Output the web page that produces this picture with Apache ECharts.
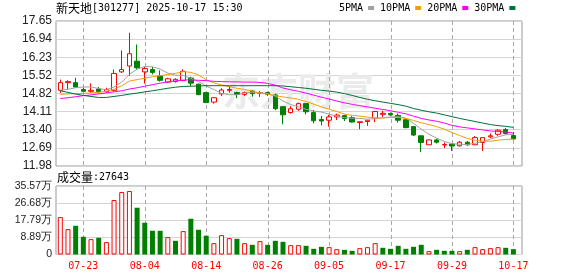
<!DOCTYPE html>
<html><head><meta charset="utf-8">
<script src="https://cdn.jsdelivr.net/npm/echarts@6/dist/echarts.min.js"></script>
<style>html,body{margin:0;padding:0;background:#fff}#c{width:578px;height:276px}</style>
</head><body><div id="c"></div>
<script>
const dates = ['07-18','07-21','07-22','07-23','07-24','07-25','07-28','07-29','07-30','07-31',
'08-01','08-04','08-05','08-06','08-07','08-08','08-11','08-12','08-13','08-14','08-15','08-18','08-19','08-20','08-21','08-22','08-25','08-26','08-27','08-28','08-29',
'09-01','09-02','09-03','09-04','09-05','09-08','09-09','09-10','09-11','09-12','09-15','09-16','09-17','09-18','09-19','09-22','09-23','09-24','09-25','09-26','09-29','09-30',
'10-09','10-10','10-13','10-14','10-15','10-16','10-17'];
const opens  = [14.94,15.24,15.24,14.97,14.90,14.99,14.89,14.94,15.66,15.89,16.08,15.66,15.75,15.50,15.26,15.28,15.32,15.42,15.18,14.85,14.48,14.80,14.94,14.85,14.78,14.91,14.83,14.85,14.76,14.30,14.07,14.20,14.42,14.07,13.80,13.77,13.90,13.95,13.87,13.68,13.72,13.85,14.00,14.03,13.96,13.79,13.52,13.16,12.81,13.00,12.80,12.84,12.77,12.91,12.81,12.90,13.12,13.22,13.41,13.17];
const closes = [15.24,15.28,15.07,14.90,14.94,14.89,14.97,15.60,15.75,16.37,15.82,15.79,15.64,15.33,15.39,15.37,15.68,15.22,14.77,14.46,14.65,14.95,14.97,14.78,14.85,14.81,14.85,14.78,14.22,13.98,14.22,14.42,14.10,13.75,13.74,13.90,13.97,13.83,13.70,13.71,13.77,14.11,14.04,13.98,13.77,13.48,13.19,12.90,13.00,12.91,12.82,12.76,12.91,12.81,13.09,13.09,13.16,13.38,13.25,13.04];
const lows   = [14.84,14.98,15.04,14.89,14.84,14.84,14.84,14.89,15.62,15.50,15.76,15.20,15.56,15.28,15.24,15.24,15.30,15.10,14.75,14.45,14.42,14.72,14.85,14.63,14.72,14.69,14.68,14.72,14.16,13.61,14.03,14.14,14.00,13.65,13.57,13.52,13.78,13.74,13.68,13.42,13.55,13.70,13.90,13.94,13.68,13.46,13.15,12.53,12.80,12.86,12.68,12.57,12.74,12.77,12.80,12.57,13.07,13.16,13.22,13.02];
const highs  = [15.36,15.33,15.43,15.04,15.21,15.07,15.04,15.75,16.50,17.19,16.73,15.85,15.85,15.72,15.43,15.41,15.76,15.47,15.20,14.86,14.66,15.02,15.10,14.89,14.89,14.94,14.91,14.89,14.81,14.31,14.32,14.46,14.44,14.17,13.94,13.98,14.03,13.98,13.93,13.71,13.78,14.14,14.14,14.07,14.03,13.81,13.54,13.18,13.01,13.05,12.90,12.84,12.96,12.96,13.15,13.10,13.25,13.42,13.46,13.31];
// volume in 万
const volumes = [19.43,13.19,14.92,9.20,7.98,8.68,6.42,28.28,32.44,32.97,24.29,16.48,12.32,12.32,9.02,7.11,12.15,18.56,12.84,9.72,5.90,10.06,8.50,8.15,5.90,5.03,6.94,5.03,7.11,6.59,4.86,4.86,4.51,2.95,3.99,3.82,2.78,2.43,1.91,3.30,3.82,5.90,3.47,2.95,4.51,2.95,3.99,5.03,1.74,2.43,1.91,1.91,1.74,2.43,3.82,2.78,3.30,3.82,3.47,2.7643];
const volUp = [1,1,0,0,1,0,1,1,1,1,0,0,0,0,1,0,1,0,0,0,1,1,1,0,1,0,1,0,0,0,1,1,0,0,0,1,1,0,0,1,1,1,0,0,0,0,0,0,1,0,0,0,1,0,1,1,1,1,0,0];
const ma5  = [14.94,14.98,15.04,15.07,15.07,15.01,14.96,15.07,15.26,15.57,15.76,15.87,15.86,15.77,15.61,15.53,15.52,15.41,15.28,15.11,14.97,14.82,14.77,14.76,14.84,14.86,14.85,14.81,14.71,14.52,14.38,14.30,14.20,14.13,14.09,14.01,13.93,13.87,13.85,13.84,13.81,13.83,13.86,13.90,13.91,13.85,13.65,13.42,13.22,13.07,12.94,12.85,12.83,12.82,12.87,12.93,13.03,13.12,13.20,13.22];
const ma10 = [14.78,14.80,14.81,14.82,14.84,14.86,14.90,14.98,15.12,15.30,15.36,15.41,15.47,15.51,15.56,15.60,15.67,15.64,15.54,15.35,15.23,15.15,15.08,15.02,14.97,14.91,14.83,14.79,14.73,14.68,14.64,14.59,14.50,14.40,14.29,14.20,14.11,14.01,13.96,13.93,13.89,13.86,13.86,13.88,13.88,13.84,13.76,13.67,13.60,13.52,13.42,13.29,13.17,13.06,12.99,12.95,12.95,12.99,13.02,13.03];
const ma20 = [14.62,14.65,14.69,14.73,14.76,14.80,14.84,14.88,14.92,14.99,15.04,15.10,15.16,15.22,15.27,15.31,15.34,15.35,15.33,15.32,15.29,15.28,15.27,15.27,15.26,15.26,15.25,15.21,15.14,15.03,14.96,14.90,14.83,14.75,14.67,14.60,14.52,14.45,14.39,14.34,14.29,14.24,14.19,14.14,14.08,14.02,13.93,13.84,13.78,13.73,13.66,13.57,13.51,13.47,13.43,13.39,13.35,13.33,13.31,13.27];
const ma30 = [14.92,14.86,14.79,14.74,14.70,14.66,14.66,14.70,14.74,14.79,14.83,14.88,14.92,14.97,15.02,15.06,15.09,15.10,15.11,15.12,15.12,15.12,15.12,15.12,15.12,15.12,15.12,15.12,15.12,15.11,15.08,15.05,15.02,14.98,14.94,14.91,14.87,14.81,14.74,14.66,14.59,14.53,14.48,14.43,14.38,14.32,14.23,14.16,14.10,14.05,13.98,13.91,13.84,13.78,13.72,13.66,13.60,13.56,13.53,13.49];
const priceTicks = ['11.98','12.69','13.40','14.11','14.82','15.52','16.23','16.94','17.65'];
const volTicks = ['0','8.89','17.79','26.68','35.57'];
const labelIdx = [3,11,19,27,35,43,51,59];

const RED='#ff0000', GREEN='#008000';
const X_MIN=-0.56, X_MAX=60.12;
const P_MIN=11.98, P_MAX=17.65, V_MAX=35.57;
const MONO='"DejaVu Sans Mono", monospace';
const pVals = priceTicks.map(Number), vVals = volTicks.map(Number);

function xAxis(gi, showLabel){
  return {type:'value', gridIndex:gi, min:X_MIN, max:X_MAX,
    axisLine:{show:false}, axisTick:{show:false, customValues:labelIdx},
    splitLine:{show:false},
    axisLabel:{show:showLabel, customValues:labelIdx, formatter:v=>dates[Math.round(v)]||'',
      color:RED, fontFamily:MONO, fontSize:10, margin:7}};
}
// vertical dashed grid lines at the labelled dates (dashes drawn as 1px filled rects)
function vGrid(ax, y0, y1){
  return {type:'custom', coordinateSystem:'cartesian2d', xAxisIndex:ax, yAxisIndex:ax, silent:true, z:1,
    encode:{x:0, y:1},
    data:labelIdx.map(i=>[i, y0]),
    renderItem:(params, api)=>{
      const a = api.coord([api.value(0), y0]), b = api.coord([api.value(0), y1]);
      const x = Math.round(a[0]);
      const yb = a[1], yt = b[1];
      const children = [];
      for (let y = Math.round(yt); y < yb; y += 7) {
        children.push({type:'rect', shape:{x:x, y:y, width:1, height:Math.min(4, yb - y)},
          style:{fill:'#a8a8a8'}});
      }
      return {type:'group', children};
    }};
}
const line=(name,arr,color)=>({name, type:'line', xAxisIndex:0, yAxisIndex:0, symbol:'none', silent:true,
  data:arr.map((v,i)=>[i,v]), lineStyle:{color, width:1}, itemStyle:{color}, z:3});
const rich = {a:{fontFamily:'"Noto Sans CJK SC"', fontSize:12, color:'#000', fontWeight:'normal'},
              b:{fontFamily:MONO, fontSize:10, color:'#000', fontWeight:'normal'}};

const chart = echarts.init(document.getElementById('c'), null, {renderer:'canvas'});
chart.setOption({
  animation:false,
  backgroundColor:'#fff',
  title:[
    {left:56, top:2, padding:0, text:'{a|新天地}{b|[301277] 2025-10-17 15:30}', textStyle:{fontWeight:'normal', rich}},
    {left:57, top:171, padding:0, text:'{a|成交量}{b|:27643}', textStyle:{fontWeight:'normal', rich}}
  ],
  legend:{data:['5PMA','10PMA','20PMA','30PMA'], left:339, top:3, padding:0, align:'right', icon:'rect',
    itemWidth:6, itemHeight:4, itemGap:6, selectedMode:false,
    textStyle:{fontFamily:MONO, fontSize:10, color:'#000'}},
  graphic:[{type:'text', left:222, top:72, silent:true, z:1,
    style:{text:'东方财富', font:'bold 38px "Noto Sans CJK SC"', fill:'#ebebeb'}}],
  grid:[
    {left:56, top:21, width:466, height:145, show:true, borderColor:'#999', borderWidth:1},
    {left:56, top:186, width:466, height:68.5, show:true, borderColor:'#999', borderWidth:1}
  ],
  xAxis:[xAxis(0,false), xAxis(1,true)],
  yAxis:[
    {type:'value', gridIndex:0, min:P_MIN, max:P_MAX, axisLine:{show:false}, axisTick:{show:false, customValues:pVals},
     splitLine:{show:true, lineStyle:{color:'#d4d4d4', width:1}},
     axisLabel:{customValues:pVals, formatter:v=>v.toFixed(2), color:'#222', fontFamily:'"Liberation Sans"', fontSize:12, margin:4}},
    {type:'value', gridIndex:1, min:0, max:V_MAX, axisLine:{show:false}, axisTick:{show:false, customValues:vVals},
     splitLine:{show:true, lineStyle:{color:'#d4d4d4', width:1}},
     axisLabel:{customValues:vVals, formatter:v=>v===0?'0':v.toFixed(2)+'万', color:'#222', fontFamily:'"Liberation Sans"', fontSize:10.5, margin:4}}
  ],
  series:[
    vGrid(0, P_MIN, P_MAX),
    vGrid(1, 0, V_MAX),
    {name:'K', type:'candlestick', xAxisIndex:0, yAxisIndex:0, barWidth:5, silent:true, z:2,
     encode:{x:0, y:[1,2,3,4]},
     data:dates.map((d,i)=>[i, opens[i], closes[i], lows[i], highs[i]]),
     itemStyle:{color:'#ffffff', color0:GREEN, borderColor:RED, borderColor0:GREEN, borderWidth:1}},
    line('5PMA', ma5, '#a0a0a0'),
    line('10PMA', ma10, '#f5a000'),
    line('20PMA', ma20, '#ff00ff'),
    line('30PMA', ma30, '#00703c'),
    {name:'VOL', type:'bar', xAxisIndex:1, yAxisIndex:1, barWidth:5, silent:true, z:2,
     data:volumes.map((v,i)=>({value:[i,v], itemStyle: volUp[i]? {color:'#ffffff', borderColor:RED, borderWidth:1} : {color:GREEN}}))}
  ]
});
</script>
</body></html>
